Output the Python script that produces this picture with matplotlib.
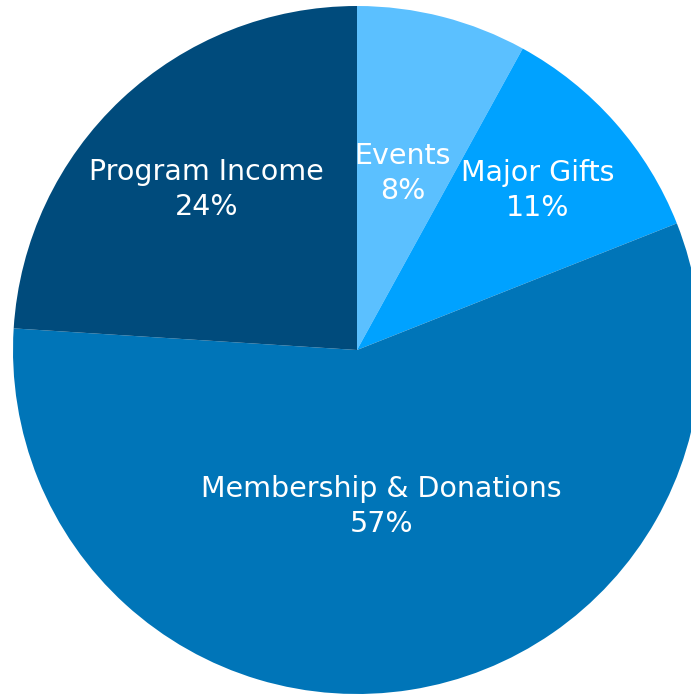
import numpy as np
import matplotlib
matplotlib.use('Agg')
import matplotlib.pyplot as plt

# revenue sources
labels = ['Events', 'Major Gifts', 'Membership & Donations', 'Program Income']
shares = [8, 11, 57, 24]
colors = ['#5bc0ff', '#00a2ff', '#0075b8', '#004b7c']
# radial position of each label, as fraction of the radius
label_dist = [0.53, 0.70, 0.46, 0.64]

W, H = 691, 696
cx, cy, R = 357, 350, 344

fig = plt.figure(figsize=(W / 100, H / 100), dpi=100)
ax = fig.add_axes([0, 0, 1, 1])
ax.pie(shares, colors=colors, startangle=90, counterclock=False,
       radius=1, wedgeprops=dict(linewidth=0))

# place labels at the middle angle of each slice
cum = np.cumsum([0] + shares[:-1])
for lab, s, c, d in zip(labels, shares, cum, label_dist):
    ang = np.deg2rad(90 - (c + s / 2) / 100 * 360)
    ax.text(d * np.cos(ang), d * np.sin(ang), f'{lab}\n{s}%',
            ha='center', va='center', color='white', fontsize=20.5,
            linespacing=1.32)

ax.set_xlim(-cx / R, (W - cx) / R)
ax.set_ylim(-(H - cy) / R, cy / R)
ax.set_aspect('auto')
ax.axis('off')

fig.savefig('out.png', dpi=100)
